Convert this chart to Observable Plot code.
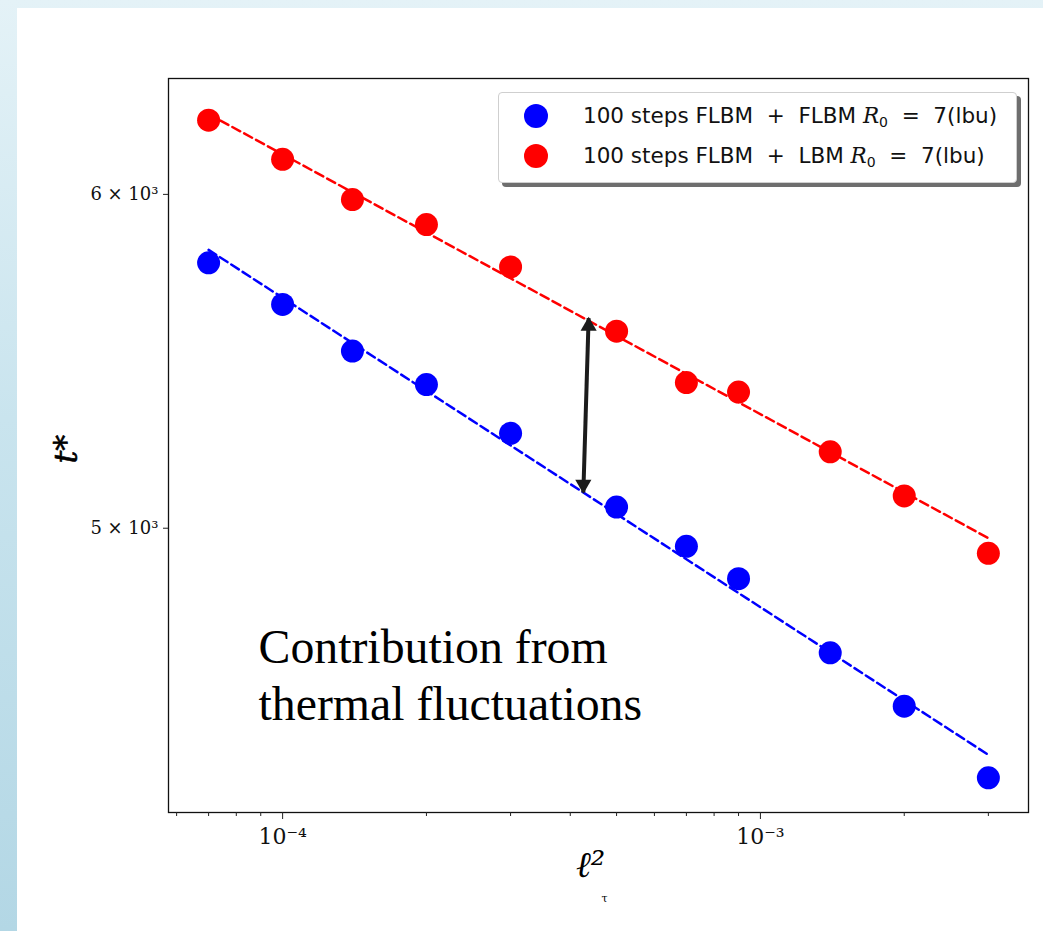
<!DOCTYPE html>
<html>
<head>
<meta charset="utf-8">
<script src="https://cdn.jsdelivr.net/npm/d3@7"></script>
<script src="https://cdn.jsdelivr.net/npm/@observablehq/plot@0.6"></script>
<style>
  html, body { margin: 0; padding: 0; }
  body {
    width: 1043px; height: 931px; overflow: hidden;
    background: linear-gradient(180deg, #e4f2f7 0%, #c9e4ee 45%, #b3d7e5 100%);
    position: relative;
  }
  #panel {
    position: absolute; left: 17px; top: 8px; width: 1026px; height: 923px;
    background: #ffffff;
  }
  #legend {
    position: absolute; left: 481px; top: 84px; width: 517px; height: 89px;
    background: #ffffff; border: 1px solid #cfcfcf; border-radius: 4px;
    box-shadow: 4px 4px 0 #6e6e6e;
    font-family: "DejaVu Sans", sans-serif; font-size: 21.5px; color: #111;
  }
  .item { position: absolute; left: 0; height: 30px; white-space: nowrap; }
  .sw { position: absolute; left: 25px; width: 24px; height: 24px; border-radius: 50%; }
  .lab { position: absolute; left: 84px; top: 0; line-height: 24px; }
  .lab i { font-family: "DejaVu Serif", serif; }
  .lab sub { font-size: 14px; vertical-align: -4px; }
</style>
</head>
<body>
<div id="panel"></div>
<script>
// ---- data ----
const ell2 = [7e-5, 1e-4, 1.4e-4, 2e-4, 3e-4, 5e-4, 7e-4, 9e-4, 1.4e-3, 2e-3, 3e-3];
const tFLBM = [5780, 5650, 5508, 5408, 5266, 5058, 4951, 4864, 4671, 4537, 4363];
const tLBM  = [6248, 6116, 5983, 5902, 5767, 5568, 5414, 5386, 5213, 5089, 4932];
const fitEll2 = [7e-5, 3e-3];
const fitFLBM = [5821, 4418];
const fitLBM  = [6269, 4973];
const arrowEll2 = [4.37e-4, 4.26e-4];
const arrowT = [5608, 5099];
const seriesNames = ["100 steps FLBM + FLBM", "100 steps FLBM + LBM"];
const seriesColors = ["#0000ff", "#ff0000"];
const xMajorTicks = [1e-4, 1e-3];
const xMinorTicks = [6e-5, 7e-5, 8e-5, 9e-5, 2e-4, 3e-4, 4e-4, 5e-4, 6e-4, 7e-4, 8e-4, 9e-4, 2e-3, 3e-3];
const yTicks = [5000, 6000];
const annotation = ["Contribution from", "thermal fluctuations"];

const pts = [
  ...ell2.map((x, i) => ({x, t: tFLBM[i], s: seriesNames[0]})),
  ...ell2.map((x, i) => ({x, t: tLBM[i], s: seriesNames[1]}))
];
const fits = [
  ...fitEll2.map((x, i) => ({x, t: fitFLBM[i], s: seriesNames[0]})),
  ...fitEll2.map((x, i) => ({x, t: fitLBM[i], s: seriesNames[1]}))
];
const arrow = [{x1: arrowEll2[0], y1: arrowT[0], x2: arrowEll2[1], y2: arrowT[1]}];
const sup = {"-": "⁻", "0": "⁰", "1": "¹", "2": "²", "3": "³", "4": "⁴", "5": "⁵", "6": "⁶", "7": "⁷", "8": "⁸", "9": "⁹"};
const pow10 = d => "10" + String(Math.round(Math.log10(d))).split("").map(c => sup[c]).join("");

const serif = "'DejaVu Serif', serif";
const chart = Plot.plot({
  width: 1026,
  height: 923,
  marginLeft: 151,
  marginRight: 15,
  marginTop: 70,
  marginBottom: 119,
  style: {background: "#ffffff", overflow: "visible"},
  x: {type: "log", domain: [5.77e-5, 3.64e-3]},
  y: {type: "log", domain: [4281, 6392]},
  color: {domain: seriesNames, range: seriesColors},
  marks: [
    Plot.frame({stroke: "#111", strokeWidth: 1.3}),
    Plot.axisX({ticks: xMinorTicks, tickSize: 4, tickFormat: () => "", label: null, stroke: "#222"}),
    Plot.axisX({ticks: xMajorTicks, tickSize: 7, tickPadding: 9, tickFormat: pow10, label: null,
      fontSize: 22, fontFamily: serif, fill: "#111", stroke: "#222"}),
    Plot.axisY({ticks: yTicks, tickSize: 5, tickPadding: 5, tickFormat: d => `${d / 1000} × 10³`, label: null,
      fontSize: 18, fontFamily: serif, fill: "#111", stroke: "#222"}),
    Plot.line(fits, {x: "x", y: "t", z: "s", stroke: "s", strokeWidth: 2.5, strokeDasharray: "9,4.5"}),
    Plot.dot(pts, {x: "x", y: "t", fill: "s", r: 11.5}),
    Plot.link(arrow, {x1: "x1", y1: "y1", x2: "x2", y2: "y2", stroke: "#1c1c1c", strokeWidth: 4}),
    Plot.dot(arrow, {x: "x1", y: "y1", symbol: "triangle", r: 6, fill: "#1c1c1c", dy: 8}),
    Plot.dot(arrow, {x: "x2", y: "y2", symbol: "triangle", r: 6, fill: "#1c1c1c", rotate: 180, dy: -8}),
    Plot.text([annotation[0]], {frameAnchor: "top-left", dx: 90, dy: 569, textAnchor: "start", lineAnchor: "middle",
      fontFamily: "'Liberation Serif', 'Times New Roman', serif", fontSize: 47.8, fill: "#000"}),
    Plot.text([annotation[1]], {frameAnchor: "top-left", dx: 90, dy: 626, textAnchor: "start", lineAnchor: "middle",
      fontFamily: "'Liberation Serif', 'Times New Roman', serif", fontSize: 47.8, fill: "#000"}),
    Plot.text(["t*"], {frameAnchor: "left", dx: -102, dy: 18, rotate: -90, fontFamily: serif, fontStyle: "italic",
      fontSize: 32, fill: "#000", stroke: "#000", strokeWidth: 0.6}),
    Plot.text(["ℓ²"], {frameAnchor: "bottom", dx: -8, dy: 64, fontFamily: serif, fontStyle: "italic",
      fontSize: 36, fill: "#000"}),
    Plot.text(["τ"], {frameAnchor: "bottom", dx: 6, dy: 89, fontFamily: serif, fontSize: 11, fill: "#000"})
  ]
});
const panel = document.getElementById("panel");
panel.appendChild(chart);

// legend (HTML)
const legend = document.createElement("div");
legend.id = "legend";
seriesNames.forEach((name, i) => {
  const item = document.createElement("div");
  item.className = "item";
  item.style.top = (i === 0 ? 11 : 51) + "px";
  item.innerHTML = `<span class="sw" style="background:${seriesColors[i]}"></span>` +
    `<span class="lab">${name.replace("+", "&nbsp;+&nbsp;")} <i>R</i><sub>0</sub> &nbsp;=&nbsp; 7(lbu)</span>`;
  legend.appendChild(item);
});
panel.appendChild(legend);
</script>
</body>
</html>
